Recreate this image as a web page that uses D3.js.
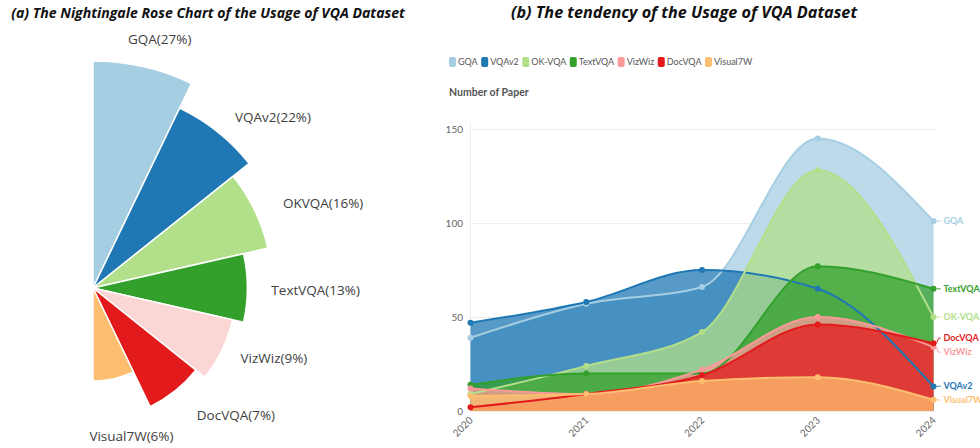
<!DOCTYPE html>
<html>
<head>
<meta charset="utf-8">
<script src="https://cdn.jsdelivr.net/npm/d3@7"></script>
<style>
  body { margin: 0; background: #fff; }
  svg { display: block; }
</style>
</head>
<body>
<div id="chart"></div>
<script>
// datasets (same order in both panels)
const roseNames = ['GQA', 'VQAv2', 'OKVQA', 'TextVQA', 'VizWiz', 'DocVQA', 'Visual7W']
const rosePercent = [27, 22, 16, 13, 9, 7, 6]
// relative slice length
const roseValue = [100, 88, 79, 68, 63, 58, 41]
const roseColors = ['#a6cee3', '#1f78b4', '#b2df8a', '#33a02c', '#fcd5d5', '#e31a1c', '#fdbf6f']

const years = ['2020', '2021', '2022', '2023', '2024']
const seriesNames = ['GQA', 'VQAv2', 'OK-VQA', 'TextVQA', 'VizWiz', 'DocVQA', 'Visual7W']
const gqa      = [39, 57, 66, 145, 101]
const vqav2    = [47, 58, 75, 65, 13]
const okvqa    = [9, 24, 42, 128, 50]
const textvqa  = [14, 20, 20, 77, 65]
const vizwiz   = [12, 9, 22, 50, 34]
const docvqa   = [2, 9, 19, 46, 36]
const visual7w = [8, 9, 16, 18, 6]
const yTicks = [0, 50, 100, 150]
const lineColors = ['#a6cee3', '#1f78b4', '#b2df8a', '#33a02c', '#fb9a99', '#e31a1c', '#fdbf6f']

const width = 980, height = 448

const svg = d3.select('#chart').append('svg')
  .attr('width', width)
  .attr('height', height)

// ---------- titles ----------
svg.append('text')
  .attr('x', 208).attr('y', 18)
  .attr('text-anchor', 'middle')
  .attr('font-family', 'Open Sans')
  .attr('font-weight', 'bold').attr('font-style', 'italic')
  .attr('font-size', 14.1).attr('fill', '#111')
  .text('(a) The Nightingale Rose Chart of the Usage of VQA Dataset')

svg.append('text')
  .attr('x', 684).attr('y', 18)
  .attr('text-anchor', 'middle')
  .attr('font-family', 'Open Sans')
  .attr('font-weight', 'bold').attr('font-style', 'italic')
  .attr('font-size', 16.2).attr('fill', '#111')
  .text('(b) The tendency of the Usage of VQA Dataset')

// ---------- (a) rose ----------
const cx = 93, cy = 288
const rScale = d3.scaleLinear().domain([0, d3.max(roseValue)]).range([0, 227])
const step = Math.PI / roseNames.length
// small hand nudges so the labels sit where the original put them
const labelNudge = [[8, 8], [23, 26], [13, 20], [2, 2], [2, -16], [28, -17], [9, 19]]

const rose = svg.append('g').attr('transform', `translate(${cx},${cy})`)
const arc = d3.arc().innerRadius(0)

rose.selectAll('path')
  .data(roseNames)
  .enter().append('path')
  .attr('d', (d, i) => arc({startAngle: i * step, endAngle: (i + 1) * step, outerRadius: rScale(roseValue[i])}))
  .attr('fill', (d, i) => roseColors[i])
  .attr('stroke', '#fff')
  .attr('stroke-width', 1.5)

const roseLabels = rose.selectAll('text.rl')
  .data(roseNames)
  .enter().append('text')
  .attr('class', 'rl')
  .attr('text-anchor', 'middle')
  .attr('dominant-baseline', 'central')
  .attr('font-family', 'Open Sans')
  .attr('font-size', 13.5)
  .attr('fill', '#404040')
  .text((d, i) => `${d}(${rosePercent[i]}%)`)

roseLabels.each(function (d, i) {
  const w = this.getComputedTextLength()
  const a = (i + 0.5) * step
  const dist = rScale(roseValue[i]) + 22 + (w / 2) * Math.abs(Math.sin(a)) + 8 * Math.abs(Math.cos(a))
  d3.select(this)
    .attr('x', Math.sin(a) * dist + labelNudge[i][0])
    .attr('y', -Math.cos(a) * dist + labelNudge[i][1])
})

// ---------- (b) smooth areas ----------
const allSeries = [gqa, vqav2, okvqa, textvqa, vizwiz, docvqa, visual7w]

const x = d3.scalePoint().domain(years).range([470.5, 933.5])
const y = d3.scaleLinear().domain([0, 150]).range([411, 129])

const plot = svg.append('g')

// grid
plot.selectAll('line.grid')
  .data(yTicks)
  .enter().append('line')
  .attr('x1', 470).attr('x2', 936)
  .attr('y1', d => Math.round(y(d)) + 0.5).attr('y2', d => Math.round(y(d)) + 0.5)
  .attr('stroke', '#eeeeee')

plot.append('line')
  .attr('x1', 470.5).attr('x2', 470.5)
  .attr('y1', 122).attr('y2', 414)
  .attr('stroke', '#eeeeee')

plot.selectAll('text.yt')
  .data(yTicks)
  .enter().append('text')
  .attr('x', 463).attr('y', d => y(d))
  .attr('dy', '0.35em')
  .attr('text-anchor', 'end')
  .attr('font-family', 'Lato').attr('font-size', 10)
  .attr('fill', '#666')
  .text(d => d)

plot.selectAll('text.xt')
  .data(years)
  .enter().append('text')
  .attr('transform', d => `translate(${x(d) + 3},${y(0) + 10}) rotate(-45)`)
  .attr('text-anchor', 'end')
  .attr('font-family', 'Lato').attr('font-size', 10)
  .attr('fill', '#666')
  .text(d => d)

svg.append('text')
  .attr('x', 449).attr('y', 96)
  .attr('font-family', 'Lato').attr('font-weight', 'bold')
  .attr('font-size', 10.5).attr('fill', '#555')
  .text('Number of Paper')

const area = d3.area()
  .x((d, i) => x(years[i]))
  .y0(y(0))
  .y1(d => y(d))
  .curve(d3.curveMonotoneX)

const line = d3.line()
  .x((d, i) => x(years[i]))
  .y(d => y(d))
  .curve(d3.curveMonotoneX)

// areas first, then every line and dot above them
plot.append('g').selectAll('path')
  .data(allSeries)
  .enter().append('path')
  .attr('d', area)
  .attr('fill', (d, i) => lineColors[i])
  .attr('fill-opacity', 0.75)

plot.append('g').selectAll('path')
  .data(allSeries)
  .enter().append('path')
  .attr('d', line)
  .attr('fill', 'none')
  .attr('stroke', (d, i) => lineColors[i])
  .attr('stroke-width', 2)

plot.append('g').selectAll('g')
  .data(allSeries)
  .enter().append('g')
  .each(function (s, i) {
    d3.select(this).selectAll('circle')
      .data(s)
      .enter().append('circle')
      .attr('cx', (d, j) => x(years[j]))
      .attr('cy', d => y(d))
      .attr('r', 3)
      .attr('fill', lineColors[i])
  })

// end labels, pushed apart where they collide
const ends = allSeries.map((s, i) => ({name: seriesNames[i], color: lineColors[i], y0: y(s[s.length - 1]), ly: y(s[s.length - 1])}))
const sorted = ends.slice().sort((a, b) => a.y0 - b.y0)
for (let k = 0; k < 50; k++) {
  for (let j = 1; j < sorted.length; j++) {
    const gap = sorted[j].ly - sorted[j - 1].ly
    if (gap < 14) {
      const push = (14 - gap) / 2
      sorted[j].ly += push
      sorted[j - 1].ly -= push
    }
  }
}

const xEnd = x(years[years.length - 1])
const endG = plot.append('g')
endG.selectAll('polyline')
  .data(ends)
  .enter().append('polyline')
  .attr('points', d => `${xEnd + 3},${d.y0} ${xEnd + 5},${d.ly} ${xEnd + 7},${d.ly}`)
  .attr('fill', 'none')
  .attr('stroke', d => d.color)
  .attr('stroke-width', 1)

endG.selectAll('text')
  .data(ends)
  .enter().append('text')
  .attr('x', xEnd + 10).attr('y', d => d.ly)
  .attr('dy', '0.35em')
  .attr('font-family', 'Lato').attr('font-weight', 'bold')
  .attr('font-size', 9)
  .attr('fill', d => d.color)
  .text(d => d.name)

// legend
const legend = svg.append('g').attr('transform', 'translate(449,62)')
let lx = 0
seriesNames.forEach((n, i) => {
  const g = legend.append('g').attr('transform', `translate(${lx},0)`)
  g.append('rect')
    .attr('x', 0).attr('y', -5)
    .attr('width', 7).attr('height', 10)
    .attr('rx', 2)
    .attr('fill', lineColors[i])
  const t = g.append('text')
    .attr('x', 9).attr('y', 0).attr('dy', '0.35em')
    .attr('font-family', 'Lato').attr('font-size', 9)
    .attr('fill', '#555')
    .text(n)
  lx += 9 + t.node().getComputedTextLength() + 3.5
})
</script>
</body>
</html>
